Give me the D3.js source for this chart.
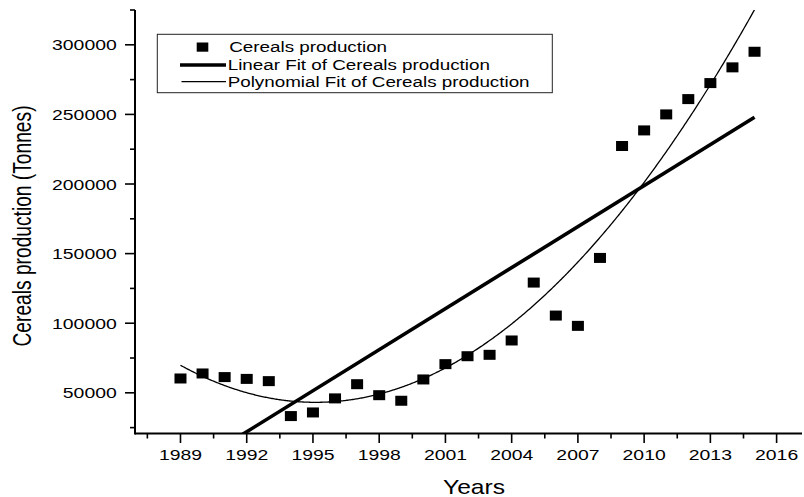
<!DOCTYPE html>
<html><head><meta charset="utf-8">
<script src="https://cdn.jsdelivr.net/npm/d3@7"></script>
<style>body{margin:0;background:#fff}svg{display:block}</style>
</head><body><svg id="c" width="804" height="497"></svg>
<script>
const years = [1989,1990,1991,1992,1993,1994,1995,1996,1997,1998,1999,2000,2001,2002,2003,2004,2005,2006,2007,2008,2009,2010,2011,2012,2013,2014,2015];
const production = [60300,63900,61300,60000,58400,33300,35900,46000,56200,48300,44300,59600,70600,76300,77300,87600,129200,105500,98100,146900,227300,238500,250000,261000,272500,283800,295000];
const xMajorTicks = [1989,1992,1995,1998,2001,2004,2007,2010,2013,2016];
const xMinorTicks = [1987.5,1990.5,1993.5,1996.5,1999.5,2002.5,2005.5,2008.5,2011.5,2014.5];
const yMajorTicks = [50000,100000,150000,200000,250000,300000];
const yMinorTicks = [25000,75000,125000,175000,225000,275000,325000];
const legendLabels = ["Cereals production","Linear Fit of Cereals production","Polynomial Fit of Cereals production"];
const xTitle = "Years";
const yTitle = "Cereals production (Tonnes)";

const FONT = "'Liberation Sans', Arial, Helvetica, sans-serif";
const svg = d3.select("#c");
const x = d3.scaleLinear().domain([1986.94, 2017.15]).range([135, 802]);
const y = d3.scaleLinear().domain([20850, 325000]).range([433.4, 10]);

// least squares polynomial fit
function polyfit(xs, ys, deg) {
  const mx = d3.mean(xs);
  const n = deg + 1;
  const A = Array.from({length:n}, () => new Array(n + 1).fill(0));
  xs.forEach((xv, i) => {
    const t = xv - mx;
    for (let r = 0; r < n; r++) {
      for (let c = 0; c < n; c++) A[r][c] += Math.pow(t, r + c);
      A[r][n] += Math.pow(t, r) * ys[i];
    }
  });
  for (let i = 0; i < n; i++) {
    let p = i;
    for (let k = i + 1; k < n; k++) if (Math.abs(A[k][i]) > Math.abs(A[p][i])) p = k;
    [A[i], A[p]] = [A[p], A[i]];
    for (let k = 0; k < n; k++) if (k !== i) {
      const f = A[k][i] / A[i][i];
      for (let c = i; c <= n; c++) A[k][c] -= f * A[i][c];
    }
  }
  const coef = A.map((row, i) => row[n] / row[i]);
  return xv => coef.reduce((s, c, i) => s + c * Math.pow(xv - mx, i), 0);
}
const linFit = polyfit(years, production, 1);
const quadFit = polyfit(years, production, 2);

svg.append("defs").append("clipPath").attr("id", "clip")
  .append("rect").attr("x", 135).attr("y", 10).attr("width", 667).attr("height", 423.4);

const x0 = years[0], x1 = years[years.length - 1];
const samples = d3.range(x0, x1 + 1e-9, 0.05);
const line = d3.line().x(d => x(d[0])).y(d => y(d[1]));

svg.append("path").attr("clip-path", "url(#clip)")
  .attr("d", line([[x0, linFit(x0)], [x1, linFit(x1)]]))
  .attr("fill", "none").attr("stroke", "#000").attr("stroke-width", 3.6);

svg.append("path").attr("clip-path", "url(#clip)")
  .attr("d", line(samples.map(v => [v, quadFit(v)])))
  .attr("fill", "none").attr("stroke", "#000").attr("stroke-width", 1.3);

// markers
svg.append("g").selectAll("rect").data(years).join("rect")
  .attr("x", (d) => x(d) - 6).attr("y", (d, i) => y(production[i]) - 5)
  .attr("width", 12).attr("height", 10).attr("fill", "#000");

// axes
const ax = svg.append("g").attr("stroke", "#000");
ax.append("line").attr("x1", 135).attr("x2", 802).attr("y1", 433.4).attr("y2", 433.4).attr("stroke-width", 2);
ax.append("line").attr("x1", 135).attr("x2", 135).attr("y1", 10).attr("y2", 434.4).attr("stroke-width", 2);
xMajorTicks.forEach(t => ax.append("line").attr("x1", x(t)).attr("x2", x(t)).attr("y1", 433.4).attr("y2", 443).attr("stroke-width", 1.6));
xMinorTicks.forEach(t => ax.append("line").attr("x1", x(t)).attr("x2", x(t)).attr("y1", 433.4).attr("y2", 438.5).attr("stroke-width", 1.6));
yMajorTicks.forEach(t => ax.append("line").attr("x1", 125).attr("x2", 135).attr("y1", y(t)).attr("y2", y(t)).attr("stroke-width", 1.6));
yMinorTicks.forEach(t => ax.append("line").attr("x1", 130).attr("x2", 135).attr("y1", y(t)).attr("y2", y(t)).attr("stroke-width", 1.6));

const SX = 1.25;
const lab = svg.append("g").attr("font-family", FONT).attr("font-size", 15.5).attr("fill", "#000");
xMajorTicks.forEach(t => lab.append("text")
  .attr("transform", `translate(${x(t)},460.3) scale(${SX},1)`)
  .attr("text-anchor", "middle").text(t));
yMajorTicks.forEach(t => lab.append("text")
  .attr("transform", `translate(116.7,${y(t) + 5.6}) scale(${SX},1)`)
  .attr("text-anchor", "end").text(t));

svg.append("text").attr("font-family", FONT).attr("font-size", 20.5)
  .attr("transform", `translate(474,493.5) scale(1.2,1)`)
  .attr("text-anchor", "middle").text(xTitle);
svg.append("text").attr("font-family", FONT).attr("font-size", 19.2)
  .attr("transform", `translate(30.5,226) scale(1.36,1) rotate(-90)`)
  .attr("text-anchor", "middle").text(yTitle);

// legend
const lg = svg.append("g");
lg.append("rect").attr("x", 157.3).attr("y", 34.3).attr("width", 395).attr("height", 58.4)
  .attr("fill", "#fff").attr("stroke", "#222").attr("stroke-width", 1);
const rowY = [51.6, 69.6, 87];
lg.append("rect").attr("x", 196.7).attr("y", 42.5).attr("width", 11.6).attr("height", 9.2).attr("fill", "#000");
lg.append("line").attr("x1", 180).attr("x2", 226).attr("y1", 65).attr("y2", 65).attr("stroke", "#000").attr("stroke-width", 3.4);
lg.append("line").attr("x1", 181.5).attr("x2", 226).attr("y1", 81.7).attr("y2", 81.7).attr("stroke", "#000").attr("stroke-width", 1.2);
legendLabels.forEach((l, i) => lg.append("text").attr("font-family", FONT).attr("font-size", 15.3)
  .attr("transform", `translate(${i === 0 ? 229.3 : 227.7},${rowY[i]}) scale(1.23,1)`).text(l));
</script></body></html>
